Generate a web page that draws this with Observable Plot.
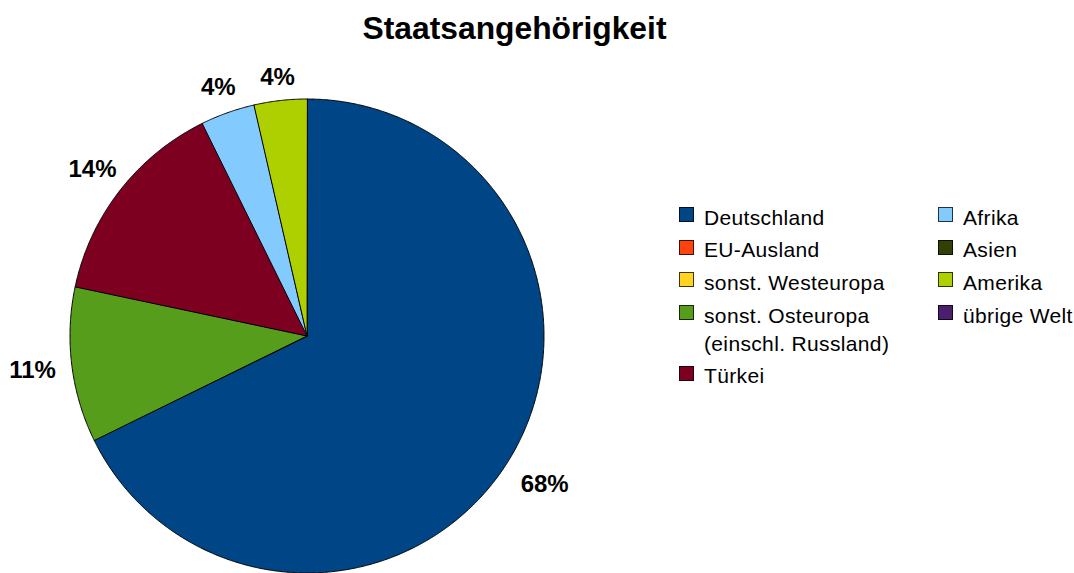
<!DOCTYPE html>
<html><head><meta charset="utf-8">
<script src="https://cdn.jsdelivr.net/npm/d3@7"></script>
<script src="https://cdn.jsdelivr.net/npm/@observablehq/plot@0.6"></script>
<style>
body{margin:0;background:#fff;font-family:"Liberation Sans",Arial,sans-serif;}
#wrap{position:relative;width:1074px;height:573px;overflow:hidden;background:#fff;}
#wrap svg{display:block;}
.lcol{position:absolute;top:203.7px;display:flex;flex-direction:column;}
.litem{display:flex;align-items:flex-start;font-size:21px;line-height:28px;color:#000;margin-bottom:4.7px;letter-spacing:0.35px;}
.sw{width:13px;height:13px;border:1px solid rgba(0,0,0,0.75);margin-top:3.3px;margin-right:10px;flex:none;}
</style></head><body><div id="wrap"></div>
<script>
const title = "Staatsangehörigkeit";
const categories = ["Deutschland","EU-Ausland","sonst. Westeuropa","sonst. Osteuropa (einschl. Russland)","Türkei","Afrika","Asien","Amerika","übrige Welt"];
const legendLabels = ["Deutschland","EU-Ausland","sonst. Westeuropa","sonst. Osteuropa<br>(einschl. Russland)","Türkei","Afrika","Asien","Amerika","übrige Welt"];
const values = [67.8, 0, 0, 10.6, 14.4, 3.7, 0, 3.6, 0];
const colors = ["#004586","#ff420e","#ffd320","#579d1c","#7e0021","#83caff","#314004","#aecf00","#4b1f6f"];
const legendColumns = [[0,1,2,3,4],[5,6,7,8]];

const W = 1074, H = 573, R = 237, cx = 306.5, cy = 335.5;
const total = d3.sum(values);
const arcs = d3.pie().sort(null).value(d => d)(values);

const slicePts = [];
const labels = [];
arcs.forEach((a, i) => {
  if (values[i] <= 0) return;
  const cat = categories[i];
  slicePts.push({cat, x: 0, y: 0});
  const n = Math.max(2, Math.ceil((a.endAngle - a.startAngle) / 0.005));
  for (let k = 0; k <= n; k++) {
    const t = a.startAngle + (a.endAngle - a.startAngle) * k / n;
    slicePts.push({cat, x: Math.sin(t), y: Math.cos(t)});
  }
  const mid = (a.startAngle + a.endAngle) / 2;
  const s = Math.sin(mid), c = Math.cos(mid);
  const r = (259 + 16 * Math.abs(s) + (c < 0 ? 14 * -c : 0)) / R;
  labels.push({x: r * s, y: r * c, text: Math.round(values[i] / total * 100) + "%"});
});

const chart = Plot.plot({
  width: W, height: H, margin: 0,
  x: {domain: [-cx / R, (W - cx) / R], axis: null},
  y: {domain: [-(H - cy) / R, cy / R], axis: null},
  color: {type: "ordinal", domain: categories, range: colors},
  style: {fontFamily: "'Liberation Sans', Arial, sans-serif", background: "#fff"},
  marks: [
    Plot.line(slicePts, {x: "x", y: "y", z: "cat", fill: "cat", stroke: "#000", strokeWidth: 1, curve: "linear-closed", strokeLinejoin: "round"}),
    Plot.text(labels, {x: "x", y: "y", text: "text", fontSize: 24, fontWeight: "bold", fill: "#000", textAnchor: "middle", lineAnchor: "middle"}),
    Plot.text([title], {frameAnchor: "top", dx: -23, dy: 28.5, fontSize: 31.8, fontWeight: "bold", fill: "#000", lineAnchor: "middle"})
  ]
});
const wrap = document.getElementById("wrap");
wrap.appendChild(chart);

const colLeft = [679, 938];
legendColumns.forEach((col, ci) => {
  const div = document.createElement("div");
  div.className = "lcol";
  div.style.left = colLeft[ci] + "px";
  col.forEach(i => {
    const it = document.createElement("div");
    it.className = "litem";
    it.innerHTML = `<span class="sw" style="background:${colors[i]}"></span><span>${legendLabels[i]}</span>`;
    div.appendChild(it);
  });
  wrap.appendChild(div);
});
</script></body></html>
